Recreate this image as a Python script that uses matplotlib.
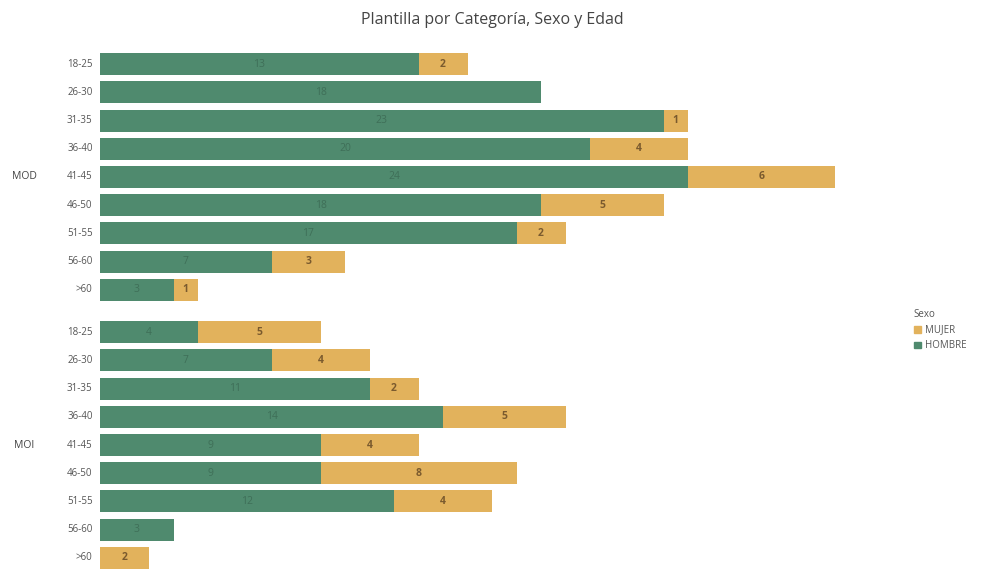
import matplotlib.pyplot as plt
from matplotlib.patches import Patch

plt.rcParams['font.family'] = ['Open Sans', 'DejaVu Sans']

ages = ["18-25", "26-30", "31-35", "36-40", "41-45", "46-50", "51-55", "56-60", ">60"]
groups = ["MOD", "MOI"]
hombre_mod = [13, 18, 23, 20, 24, 18, 17, 7, 3]
mujer_mod = [2, 0, 1, 4, 6, 5, 2, 3, 1]
hombre_moi = [4, 7, 11, 14, 9, 9, 12, 3, 0]
mujer_moi = [5, 4, 2, 5, 4, 8, 4, 0, 2]

GREEN = "#4f8a6e"
GOLD = "#e2b25c"

fig = plt.figure(figsize=(9.84, 5.84), dpi=100)
ax = fig.add_axes([100 / 984, 1 - 572 / 584, 760 / 984, 522 / 584])

group_gap = 1.5
rows = []
for g, (hom, muj) in enumerate([(hombre_mod, mujer_mod), (hombre_moi, mujer_moi)]):
    offset = g * (len(ages) + group_gap - 1)
    ys = [offset + i for i in range(len(ages))]
    ax.barh(ys, hom, height=0.78, color=GREEN)
    ax.barh(ys, muj, left=hom, height=0.78, color=GOLD)
    for y, h, m, age in zip(ys, hom, muj, ages):
        if h:
            ax.text(h / 2, y, str(h), ha="center", va="center", fontsize=7.5,
                    color="#3f6f58")
        if m:
            ax.text(h + m / 2, y, str(m), ha="center", va="center", fontsize=7.5,
                    color="#7a5a2e", fontweight="bold")
        ax.text(-0.3, y, age, ha="right", va="center", fontsize=7, color="#555555")
    ax.text(-3.1, ys[4], groups[g], ha="center", va="center", fontsize=7.5,
            color="#444444")

ax.set_xlim(0, 760 / 24.5)
ax.set_ylim(18, -0.5)
ax.axis("off")

fig.text(0.5, 1 - 20 / 584, "Plantilla por Categoría, Sexo y Edad", ha="center",
         va="center", fontsize=11.5, color="#444444")

handles = [Patch(color=GOLD, label="MUJER"), Patch(color=GREEN, label="HOMBRE")]
leg = fig.legend(handles=handles, title="Sexo", loc="upper left",
                 bbox_to_anchor=(905 / 984, 1 - 300 / 584), frameon=False,
                 fontsize=7, title_fontsize=7, handlelength=0.7, handleheight=0.7,
                 handletextpad=0.5, labelspacing=0.5, alignment="left")
for t in leg.get_texts():
    t.set_color("#555555")
leg.get_title().set_color("#555555")

fig.savefig("out.png", dpi=100)
